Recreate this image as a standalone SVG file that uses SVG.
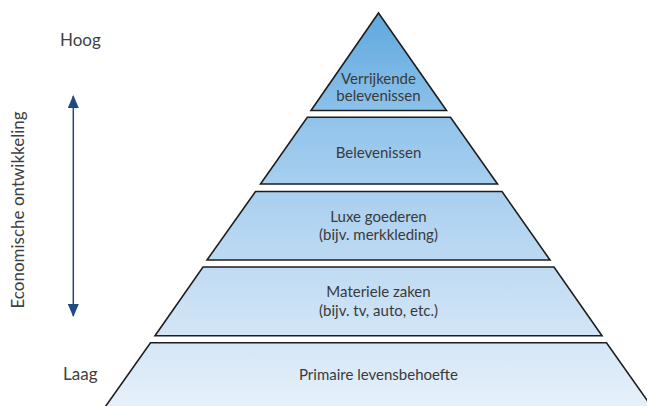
<svg xmlns="http://www.w3.org/2000/svg" width="647" height="406" viewBox="0 0 647 406">
<style>
.lvl{stroke:#1e1e1e;stroke-width:1.6;stroke-linejoin:miter;fill:url(#g)}
.t{font-family:Lato,"Open Sans","Liberation Sans",sans-serif;font-size:15px;fill:#3a3a3a;text-anchor:middle}
.side{font-family:Lato,"Open Sans","Liberation Sans",sans-serif;font-size:17px;fill:#404040}
</style>
<defs>
<linearGradient id="g" gradientUnits="userSpaceOnUse" x1="0" y1="13" x2="0" y2="406">
<stop offset="0" stop-color="#5ea8df"/>
<stop offset="0.3" stop-color="#96c6ec"/>
<stop offset="0.6" stop-color="#bad8f2"/>
<stop offset="1" stop-color="#e6f0fa"/>
</linearGradient>
<marker id="ah" viewBox="0 0 13 11" refX="12" refY="5.5" markerWidth="13" markerHeight="11" markerUnits="userSpaceOnUse" orient="auto-start-reverse">
<path d="M0,0 L13,5.5 L0,11 Z" fill="#1f4a86"/>
</marker>
</defs>
<rect width="647" height="406" fill="#ffffff"/>
<g id="level5">
<polygon class="lvl" points="150.5,342.7 606.5,342.7 654,410 103,410"/>
<text class="t" x="378.5" y="380">Primaire levensbehoefte</text>
</g>
<g id="level4">
<polygon class="lvl" points="203,267 554,267 602,335.7 155,335.7"/>
<text class="t" x="378.5" y="297">Materiele zaken</text>
<text class="t" x="378.5" y="316">(bijv. tv, auto, etc.)</text>
</g>
<g id="level3">
<polygon class="lvl" points="255.5,191.5 502,191.5 550,260 207,260"/>
<text class="t" x="378.5" y="222">Luxe goederen</text>
<text class="t" x="378.5" y="240">(bijv. merkkleding)</text>
</g>
<g id="level2">
<polygon class="lvl" points="307.3,117.3 450.5,117.3 497.5,184 260.5,184"/>
<text class="t" x="378.5" y="158">Belevenissen</text>
</g>
<g id="level1">
<polygon class="lvl" points="378.5,13 446.5,110.5 311,110.5"/>
<text class="t" x="378.5" y="84">Verrijkende</text>
<text class="t" x="378.5" y="101">belevenissen</text>
</g>
<g id="labels">
<text class="side" x="60" y="46">Hoog</text>
<text class="side" x="63" y="380">Laag</text>
<text class="side" x="0" y="0" text-anchor="middle" transform="translate(24,210) rotate(-90)">Economische ontwikkeling</text>
</g>
<g id="connectors">
<line x1="73.3" y1="316" x2="73.3" y2="96" stroke="#1f4a86" stroke-width="1.5" marker-end="url(#ah)" marker-start="url(#ah)"/>
</g>
</svg>
